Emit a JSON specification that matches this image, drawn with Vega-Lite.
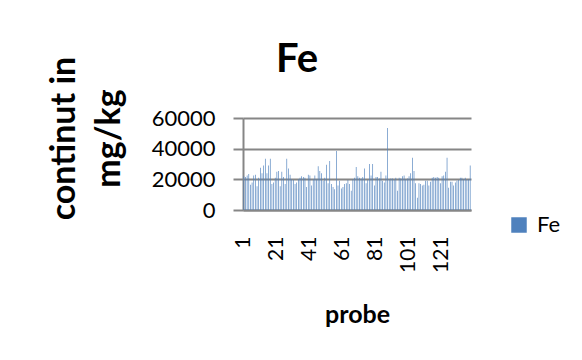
{
  "$schema": "https://vega.github.io/schema/vega-lite/v6.json",
  "width": 228,
  "height": 92,
  "autosize": {"type": "none"},
  "padding": {"left": 243, "top": 118, "right": 111, "bottom": 150},
  "background": "white",
  "title": {
    "text": "Fe",
    "font": "Lato",
    "fontSize": 40,
    "fontWeight": "bold",
    "color": "#000000",
    "anchor": "middle",
    "frame": "group",
    "baseline": "alphabetic",
    "dx": -60,
    "offset": -56
  },
  "data": {
    "values": [
      {"probe": 1, "Fe": 22000}, {"probe": 2, "Fe": 21500}, {"probe": 3, "Fe": 22500}, {"probe": 4, "Fe": 23500},
      {"probe": 5, "Fe": 16500}, {"probe": 6, "Fe": 18000}, {"probe": 7, "Fe": 22500}, {"probe": 8, "Fe": 23000},
      {"probe": 9, "Fe": 15500}, {"probe": 10, "Fe": 21000}, {"probe": 11, "Fe": 27500}, {"probe": 12, "Fe": 24000},
      {"probe": 13, "Fe": 29000}, {"probe": 14, "Fe": 33500}, {"probe": 15, "Fe": 24000}, {"probe": 16, "Fe": 29000},
      {"probe": 17, "Fe": 33500}, {"probe": 18, "Fe": 17000}, {"probe": 19, "Fe": 18000}, {"probe": 20, "Fe": 21000},
      {"probe": 21, "Fe": 25000}, {"probe": 22, "Fe": 25500}, {"probe": 23, "Fe": 15500}, {"probe": 24, "Fe": 25000},
      {"probe": 25, "Fe": 21500}, {"probe": 26, "Fe": 17000}, {"probe": 27, "Fe": 33500}, {"probe": 28, "Fe": 27000},
      {"probe": 29, "Fe": 23000}, {"probe": 30, "Fe": 20000}, {"probe": 31, "Fe": 19500}, {"probe": 32, "Fe": 17000},
      {"probe": 33, "Fe": 18000}, {"probe": 34, "Fe": 20000}, {"probe": 35, "Fe": 21000}, {"probe": 36, "Fe": 22000},
      {"probe": 37, "Fe": 21500}, {"probe": 38, "Fe": 21000}, {"probe": 39, "Fe": 15000}, {"probe": 40, "Fe": 23000},
      {"probe": 41, "Fe": 22500}, {"probe": 42, "Fe": 16000}, {"probe": 43, "Fe": 20000}, {"probe": 44, "Fe": 22500},
      {"probe": 45, "Fe": 20000}, {"probe": 46, "Fe": 28500}, {"probe": 47, "Fe": 25500}, {"probe": 48, "Fe": 24000},
      {"probe": 49, "Fe": 19000}, {"probe": 50, "Fe": 21000}, {"probe": 51, "Fe": 29500}, {"probe": 52, "Fe": 17500},
      {"probe": 53, "Fe": 32000}, {"probe": 54, "Fe": 17000}, {"probe": 55, "Fe": 15000}, {"probe": 56, "Fe": 13500},
      {"probe": 57, "Fe": 38500}, {"probe": 58, "Fe": 16000}, {"probe": 59, "Fe": 19000}, {"probe": 60, "Fe": 14000},
      {"probe": 61, "Fe": 15000}, {"probe": 62, "Fe": 17000}, {"probe": 63, "Fe": 17500}, {"probe": 64, "Fe": 19500},
      {"probe": 65, "Fe": 17000}, {"probe": 66, "Fe": 12500}, {"probe": 67, "Fe": 20000}, {"probe": 68, "Fe": 21000},
      {"probe": 69, "Fe": 28000}, {"probe": 70, "Fe": 22000}, {"probe": 71, "Fe": 21000}, {"probe": 72, "Fe": 20500},
      {"probe": 73, "Fe": 21500}, {"probe": 74, "Fe": 27000}, {"probe": 75, "Fe": 17500}, {"probe": 76, "Fe": 19500},
      {"probe": 77, "Fe": 30000}, {"probe": 78, "Fe": 22500}, {"probe": 79, "Fe": 30000}, {"probe": 80, "Fe": 16000},
      {"probe": 81, "Fe": 21500}, {"probe": 82, "Fe": 21500}, {"probe": 83, "Fe": 20500}, {"probe": 84, "Fe": 25000},
      {"probe": 85, "Fe": 19000}, {"probe": 86, "Fe": 18000}, {"probe": 87, "Fe": 22500}, {"probe": 88, "Fe": 53500},
      {"probe": 89, "Fe": 20000}, {"probe": 90, "Fe": 20500}, {"probe": 91, "Fe": 20500}, {"probe": 92, "Fe": 19500},
      {"probe": 93, "Fe": 21000}, {"probe": 94, "Fe": 12500}, {"probe": 95, "Fe": 21000}, {"probe": 96, "Fe": 20500},
      {"probe": 97, "Fe": 22000}, {"probe": 98, "Fe": 22500}, {"probe": 99, "Fe": 20000}, {"probe": 100, "Fe": 20500},
      {"probe": 101, "Fe": 22000}, {"probe": 102, "Fe": 24000}, {"probe": 103, "Fe": 34000}, {"probe": 104, "Fe": 25500},
      {"probe": 105, "Fe": 17500}, {"probe": 106, "Fe": 8000}, {"probe": 107, "Fe": 17500}, {"probe": 108, "Fe": 17000},
      {"probe": 109, "Fe": 16000}, {"probe": 110, "Fe": 16500}, {"probe": 111, "Fe": 19000}, {"probe": 112, "Fe": 19000},
      {"probe": 113, "Fe": 16000}, {"probe": 114, "Fe": 18500}, {"probe": 115, "Fe": 21000}, {"probe": 116, "Fe": 21500},
      {"probe": 117, "Fe": 21000}, {"probe": 118, "Fe": 21500}, {"probe": 119, "Fe": 21000}, {"probe": 120, "Fe": 17500},
      {"probe": 121, "Fe": 22000}, {"probe": 122, "Fe": 22500}, {"probe": 123, "Fe": 25000}, {"probe": 124, "Fe": 34000},
      {"probe": 125, "Fe": 14500}, {"probe": 126, "Fe": 18500}, {"probe": 127, "Fe": 18500}, {"probe": 128, "Fe": 16000},
      {"probe": 129, "Fe": 18000}, {"probe": 130, "Fe": 19000}, {"probe": 131, "Fe": 19500}, {"probe": 132, "Fe": 21000},
      {"probe": 133, "Fe": 21000}, {"probe": 134, "Fe": 20000}, {"probe": 135, "Fe": 21000}, {"probe": 136, "Fe": 19500},
      {"probe": 137, "Fe": 20000}, {"probe": 138, "Fe": 29000}
    ]
  },
  "mark": {"type": "bar", "color": "#4F81BD"},
  "encoding": {
    "x": {
      "field": "probe",
      "type": "ordinal",
      "sort": "ascending",
      "title": "probe",
      "scale": {"paddingInner": 0.6, "paddingOuter": 0.3},
      "axis": {
        "values": [1, 21, 41, 61, 81, 101, 121],
        "labelAngle": 270,
        "labelFont": "Lato",
        "labelFontSize": 21,
        "labelColor": "#000000",
        "labelPadding": 26,
        "ticks": false,
        "domainColor": "#868686",
        "domainWidth": 2,
        "titleFont": "Lato",
        "titleFontSize": 25,
        "titleFontWeight": "bold",
        "titleColor": "#000000",
        "titlePadding": 30
      }
    },
    "y": {
      "field": "Fe",
      "type": "quantitative",
      "title": ["continut in", "mg/kg"],
      "scale": {"domain": [0, 60000], "nice": false},
      "axis": {
        "values": [0, 20000, 40000, 60000],
        "format": "d",
        "labelFont": "Lato",
        "labelFontSize": 22,
        "labelColor": "#000000",
        "labelPadding": 18,
        "tickSize": 10,
        "tickColor": "#868686",
        "tickWidth": 2,
        "grid": true,
        "gridColor": "#868686",
        "gridWidth": 2,
        "domainColor": "#868686",
        "domainWidth": 2,
        "titleFont": "Lato",
        "titleFontSize": 34,
        "titleFontWeight": "bold",
        "titleColor": "#000000",
        "titleLineHeight": 45,
        "titleY": 20,
        "titlePadding": 25
      }
    },
    "color": {
      "datum": "Fe",
      "type": "nominal",
      "scale": {"range": ["#4F81BD"]},
      "legend": {
        "title": null,
        "orient": "none",
        "legendX": 265,
        "legendY": 96,
        "padding": 0,
        "symbolType": "square",
        "symbolSize": 240,
        "symbolStrokeWidth": 0,
        "symbolOpacity": 1,
        "labelFont": "Lato",
        "labelFontSize": 22,
        "labelColor": "#000000",
        "labelOffset": 7
      }
    }
  },
  "config": {
    "view": {"stroke": null}
  }
}
